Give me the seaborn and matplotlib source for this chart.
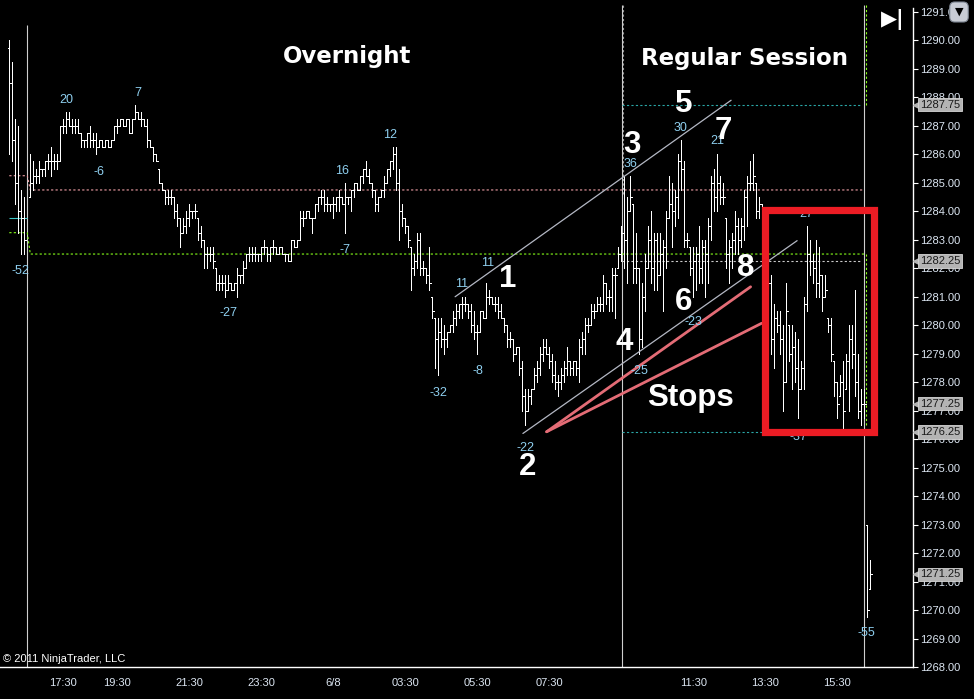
import numpy as np
import pandas as pd
import matplotlib
matplotlib.use('Agg')
import matplotlib.pyplot as plt
import matplotlib.transforms as mtransforms
from matplotlib.patches import Rectangle
import seaborn as sns

# ES 5-minute bars, prices (bar index = 5 min slot)
pre_high = [1290.0, 1289.25, 1287.25, 1287.0, 1284.75, 1284.5]
pre_low = [1286.0, 1285.75, 1284.25, 1283.25, 1282.5, 1282.5]
pre_close = [1288.5, 1286.5, 1285.0, 1284.0, 1283.75, 1283.0]

eth_high = [
    1286.0, 1285.75, 1285.5, 1285.75, 1285.5, 1285.75, 1286.0, 1286.25, 1286.0, 1286.0,
    1287.0, 1287.25, 1287.5, 1287.5, 1287.25, 1287.25, 1287.25, 1286.75, 1286.5, 1286.75,
    1287.0, 1286.75, 1286.75, 1286.5, 1286.5, 1286.5, 1286.5, 1286.5, 1287.0, 1287.25,
    1287.25, 1287.25, 1287.25, 1287.25, 1287.25, 1287.75, 1287.5, 1287.5, 1287.25, 1287.25,
    1286.5, 1286.25, 1286.0, 1285.5, 1285.0, 1284.75, 1284.75, 1284.75, 1284.5, 1284.25,
    1283.75, 1283.75, 1284.0, 1284.25, 1284.0, 1284.25, 1283.75, 1283.5, 1283.0, 1282.75,
    1282.75, 1282.75, 1282.0, 1281.75, 1281.75, 1281.75, 1281.75, 1281.5, 1281.5, 1282.0,
    1281.75, 1282.25, 1282.5, 1282.75, 1282.75, 1282.75, 1282.5, 1282.75, 1283.0, 1282.75,
    1282.75, 1283.0, 1282.75, 1282.75, 1282.75, 1282.5, 1282.5, 1283.0, 1283.0, 1283.0,
    1284.0, 1284.0, 1284.0, 1284.0, 1283.75, 1284.25, 1284.5, 1284.75, 1284.75, 1284.5,
    1284.25, 1284.5, 1284.5, 1284.75, 1284.5, 1285.0, 1284.5, 1284.75, 1285.0, 1285.0,
    1285.25, 1285.5, 1285.75, 1285.5, 1285.0, 1284.75, 1284.5, 1284.75, 1285.25, 1285.5,
    1285.75, 1286.25, 1286.25, 1285.5, 1284.25, 1283.75, 1283.5, 1282.75, 1282.5, 1283.25,
    1283.25, 1282.25, 1282.0, 1282.75, 1281.0, 1280.25, 1280.25, 1280.25, 1280.0, 1279.75,
    1280.0, 1280.5, 1280.75, 1280.75, 1281.0, 1281.0, 1280.75, 1280.75, 1280.5, 1280.0,
    1280.5, 1280.5, 1281.5, 1281.25, 1281.0, 1281.0, 1281.0, 1280.75, 1280.25, 1280.0,
    1279.75, 1279.5, 1279.25, 1279.25, 1278.75, 1277.75, 1277.75, 1277.75, 1278.5, 1278.75,
    1279.25, 1279.5, 1279.5, 1279.25, 1279.0, 1278.75, 1278.25, 1278.5, 1278.75, 1279.25,
    1278.75, 1278.75, 1278.75, 1279.5, 1279.75, 1280.25, 1280.25, 1280.75, 1280.75, 1281.0,
    1281.0, 1281.75, 1281.5, 1281.25, 1282.0, 1282.0, 1282.75, 1283.5]
eth_low = [
    1284.5, 1284.75, 1285.0, 1285.0, 1285.25, 1285.25, 1285.5, 1285.25, 1285.5, 1285.5,
    1285.75, 1286.75, 1286.75, 1287.0, 1286.75, 1286.75, 1286.75, 1286.25, 1286.25, 1286.25,
    1286.25, 1286.25, 1286.0, 1286.25, 1286.25, 1286.25, 1286.25, 1286.25, 1286.5, 1286.75,
    1287.0, 1287.0, 1287.0, 1286.75, 1286.75, 1287.25, 1287.25, 1287.0, 1287.0, 1286.25,
    1286.25, 1285.75, 1285.75, 1285.0, 1284.75, 1284.25, 1284.25, 1284.25, 1283.75, 1283.5,
    1282.75, 1283.25, 1283.25, 1283.5, 1283.75, 1283.75, 1283.0, 1282.75, 1282.0, 1282.0,
    1282.25, 1282.0, 1281.25, 1281.25, 1281.25, 1281.0, 1281.25, 1281.25, 1281.25, 1281.0,
    1281.5, 1281.5, 1282.0, 1282.25, 1282.25, 1282.25, 1282.25, 1282.25, 1282.5, 1282.25,
    1282.25, 1282.5, 1282.5, 1282.5, 1282.5, 1282.25, 1282.25, 1282.25, 1282.75, 1282.75,
    1283.0, 1283.5, 1283.75, 1283.75, 1283.25, 1283.75, 1284.0, 1284.25, 1284.0, 1284.0,
    1284.0, 1283.75, 1284.0, 1284.0, 1284.25, 1283.25, 1284.25, 1284.0, 1284.5, 1284.75,
    1284.75, 1285.0, 1285.25, 1285.0, 1284.5, 1284.0, 1284.0, 1284.5, 1284.5, 1285.0,
    1285.25, 1285.5, 1284.75, 1283.0, 1283.5, 1283.25, 1282.75, 1281.25, 1281.75, 1282.0,
    1281.75, 1281.75, 1281.5, 1281.25, 1280.25, 1278.5, 1278.25, 1279.25, 1279.0, 1279.25,
    1279.75, 1279.75, 1280.0, 1280.25, 1280.25, 1280.5, 1280.25, 1279.75, 1279.5, 1279.0,
    1279.75, 1280.25, 1280.25, 1280.75, 1280.75, 1280.5, 1280.25, 1280.25, 1279.75, 1279.25,
    1279.25, 1278.75, 1279.0, 1278.25, 1277.0, 1276.5, 1277.0, 1277.25, 1277.75, 1278.0,
    1278.25, 1278.75, 1279.0, 1278.5, 1278.0, 1277.75, 1277.5, 1277.75, 1278.0, 1278.25,
    1278.25, 1278.25, 1278.25, 1278.0, 1279.0, 1279.0, 1279.75, 1280.0, 1280.25, 1280.5,
    1280.5, 1280.5, 1280.75, 1280.5, 1280.5, 1280.25, 1282.0, 1282.25]
eth_close = [
    1285.0, 1285.25, 1285.25, 1285.5, 1285.5, 1285.75, 1285.75, 1285.75, 1285.75, 1285.75,
    1287.0, 1287.0, 1287.25, 1287.0, 1287.0, 1287.0, 1286.75, 1286.5, 1286.5, 1286.75,
    1286.5, 1286.5, 1286.25, 1286.5, 1286.25, 1286.5, 1286.25, 1286.5, 1287.0, 1287.0,
    1287.25, 1287.0, 1287.25, 1286.75, 1287.25, 1287.5, 1287.25, 1287.25, 1287.0, 1286.5,
    1286.25, 1286.0, 1285.75, 1285.0, 1284.75, 1284.5, 1284.5, 1284.5, 1284.0, 1283.75,
    1283.25, 1283.5, 1283.75, 1284.0, 1284.0, 1284.0, 1283.25, 1283.0, 1282.5, 1282.5,
    1282.5, 1282.25, 1281.5, 1281.5, 1281.5, 1281.25, 1281.5, 1281.25, 1281.5, 1281.75,
    1281.75, 1282.0, 1282.5, 1282.5, 1282.5, 1282.5, 1282.5, 1282.75, 1282.75, 1282.5,
    1282.75, 1282.75, 1282.5, 1282.75, 1282.5, 1282.5, 1282.25, 1283.0, 1282.75, 1283.0,
    1283.75, 1283.75, 1284.0, 1283.75, 1283.75, 1284.25, 1284.5, 1284.5, 1284.25, 1284.25,
    1284.25, 1284.25, 1284.5, 1284.5, 1284.25, 1284.5, 1284.5, 1284.75, 1285.0, 1284.75,
    1285.25, 1285.5, 1285.25, 1285.0, 1284.75, 1284.25, 1284.5, 1284.75, 1285.0, 1285.5,
    1285.75, 1286.0, 1285.0, 1284.0, 1283.75, 1283.5, 1283.0, 1282.0, 1282.25, 1283.0,
    1282.0, 1282.0, 1281.75, 1281.5, 1280.5, 1279.5, 1279.75, 1279.5, 1279.5, 1279.75,
    1280.0, 1280.25, 1280.5, 1280.75, 1280.75, 1280.75, 1280.5, 1280.0, 1279.75, 1279.75,
    1280.5, 1280.25, 1281.0, 1281.0, 1280.75, 1280.75, 1280.5, 1280.25, 1280.0, 1279.5,
    1279.5, 1279.0, 1279.25, 1278.5, 1277.5, 1277.0, 1277.5, 1277.75, 1278.25, 1278.5,
    1279.0, 1279.25, 1279.0, 1278.75, 1278.25, 1278.0, 1278.0, 1278.25, 1278.5, 1278.75,
    1278.5, 1278.75, 1278.5, 1279.25, 1279.5, 1280.0, 1280.0, 1280.5, 1280.5, 1280.75,
    1280.75, 1281.5, 1281.0, 1281.0, 1281.75, 1281.75, 1282.5, 1283.25]

rth_high = [
    1285.25, 1284.5, 1285.25, 1284.25, 1283.25, 1282.0, 1281.5, 1282.5, 1283.5, 1284.0,
    1283.25, 1283.25, 1283.25, 1283.0, 1284.0, 1285.25, 1285.0, 1284.75, 1286.0, 1286.5,
    1285.75, 1283.25, 1282.75, 1282.75, 1282.75, 1283.5, 1283.0, 1283.0, 1283.75, 1285.25,
    1285.5, 1286.0, 1285.25, 1285.0, 1283.75, 1283.0, 1283.25, 1284.0, 1283.75, 1283.75,
    1284.75, 1285.25, 1285.75, 1286.0, 1285.0, 1284.5, 1284.25, 1283.75, 1282.75, 1281.75,
    1280.75, 1280.5, 1280.5, 1280.0, 1281.5, 1280.0, 1280.0, 1279.75, 1279.5, 1278.75,
    1281.0, 1283.5, 1283.0, 1282.5, 1283.0, 1282.75, 1281.75, 1281.75, 1280.25, 1280.25,
    1278.75, 1278.0, 1278.25, 1278.75, 1279.0, 1280.0, 1280.0, 1281.25, 1279.0, 1277.75, 1277.75]
rth_low = [
    1282.0, 1281.5, 1284.0, 1281.5, 1281.5, 1279.0, 1279.25, 1280.5, 1282.0, 1281.5,
    1281.25, 1281.25, 1281.75, 1280.5, 1282.0, 1283.75, 1282.75, 1283.5, 1283.75, 1284.75,
    1282.75, 1282.75, 1281.75, 1281.0, 1281.25, 1281.5, 1281.5, 1281.0, 1281.5, 1283.0,
    1284.0, 1284.0, 1284.25, 1284.25, 1282.0, 1281.5, 1282.0, 1282.5, 1282.5, 1282.75,
    1283.0, 1283.5, 1284.75, 1284.75, 1283.75, 1283.75, 1283.5, 1282.75, 1281.0, 1279.0,
    1278.5, 1279.75, 1279.0, 1277.0, 1278.0, 1278.75, 1277.75, 1278.0, 1276.75, 1277.75,
    1277.75, 1280.5, 1281.75, 1281.5, 1281.0, 1281.0, 1280.5, 1281.0, 1279.75, 1278.75,
    1277.5, 1276.75, 1277.5, 1276.25, 1277.75, 1277.0, 1278.5, 1277.5, 1276.75, 1276.5, 1276.75]
rth_close = [
    1283.0, 1284.0, 1284.5, 1282.0, 1282.0, 1279.5, 1281.0, 1282.0, 1283.0, 1282.0,
    1283.0, 1281.75, 1282.5, 1282.75, 1283.75, 1284.25, 1284.0, 1284.5, 1285.75, 1285.5,
    1283.0, 1283.0, 1282.0, 1282.25, 1282.5, 1282.0, 1282.75, 1282.5, 1283.5, 1285.0,
    1284.5, 1285.0, 1284.5, 1284.5, 1282.5, 1282.75, 1283.0, 1283.5, 1283.0, 1283.5,
    1284.5, 1285.0, 1285.0, 1285.25, 1284.0, 1284.25, 1283.75, 1283.0, 1281.5, 1279.5,
    1280.25, 1280.0, 1279.5, 1278.0, 1280.5, 1279.0, 1279.25, 1278.5, 1277.75, 1278.5,
    1280.75, 1282.5, 1282.25, 1282.0, 1281.5, 1281.75, 1281.0, 1281.25, 1280.0, 1279.0,
    1278.0, 1277.25, 1278.0, 1277.0, 1278.75, 1279.5, 1279.0, 1278.0, 1277.0, 1277.25, 1277.25]

post_high = [1273.0, 1271.75]
post_low = [1269.75, 1270.75]
post_close = [1270.0, 1271.25]

first_open = 1289.75
session_start = {'pre': 0, 'eth': 7, 'rth': 205, 'post': 286}

# time axis labels (bar index of each label)
tick_bars = [18, 36, 60, 84, 108, 132, 156, 180, 228, 252, 276]
tick_labels = ['17:30', '19:30', '21:30', '23:30', '6/8', '03:30', '05:30', '07:30',
               '11:30', '13:30', '15:30']
session_breaks = [6, 204.13, 285]
session_break_tops = [1290.55, 1291.25, 1291.25]

# swing size labels
swing_text = ['-52', '20', '-6', '7', '-27', '16', '-7', '12', '-32', '11', '-8', '11',
              '-22', '36', '-25', '30', '-23', '21', '27', '-37', '-55']
swing_bar = [3.6, 18.9, 29.9, 42.9, 72.9, 110.9, 111.9, 126.9, 142.9, 150.9, 156.2, 159.6,
             171.9, 206.9, 210.2, 223.6, 227.9, 235.9, 265.6, 263.2, 285.6]
swing_price = [1281.9, 1287.91, 1285.38, 1288.15, 1280.43, 1285.42, 1282.64, 1286.68,
               1277.62, 1281.45, 1278.39, 1282.19, 1275.69, 1285.66, 1278.39, 1286.93,
               1280.11, 1286.47, 1283.91, 1276.08, 1269.19]

# hand drawn annotations
wave_text = ['1', '2', '3', '4', '5', '6', '7', '8', 'Stops']
wave_bar = [166.2, 172.9, 207.6, 204.9, 224.9, 224.6, 237.9, 245.6, 227.2]
wave_price = [1281.62, 1275.02, 1286.33, 1279.41, 1287.77, 1280.82, 1286.82, 1282.01, 1277.45]
title_text = ['Overnight', 'Regular Session']
title_bar = [112.6, 244.9]
title_price = [1289.42, 1289.38]

channel_lines = {'upper': ([148.6, 240.6], [1281.0, 1287.9]),
                 'lower': ([171.2, 262.6], [1276.2, 1282.97])}
stop_lines = {'stop_a': ([179.1, 247.1], [1276.26, 1281.35]),
              'stop_b': ([179.1, 250.8], [1276.26, 1280.07])}
stop_box = (252.0, 288.1, 1276.25, 1284.03)

# pivot / session levels
pivot_bar = [0, 6, 7, 285]
pink_level = [1285.25, 1285.25, 1284.75, 1284.75]
green_level = [1283.25, 1283.25, 1282.5, 1282.5]
cyan_level = 1283.75
rth_levels = [1287.75, 1282.25, 1276.25]
rth_level_colors = ['#2aa6a6', '#c8c8c8', '#2aa6a6']
marker_prices = [1287.75, 1282.25, 1277.25, 1276.25, 1271.25]

# ---- assemble bars ----
segments = [('pre', pre_high, pre_low, pre_close), ('eth', eth_high, eth_low, eth_close),
            ('rth', rth_high, rth_low, rth_close), ('post', post_high, post_low, post_close)]
frames = []
for name, h, l, c in segments:
    frames.append(pd.DataFrame({'bar': session_start[name] + np.arange(len(h)),
                                'high': h, 'low': l, 'close': c}))
bars = pd.concat(frames, ignore_index=True)
# open tick drawn at the prior close (clipped into the bar range)
opens = bars['close'].shift(1).fillna(first_open)
bars['open'] = np.clip(opens, bars['low'], bars['high'])

sns.set_theme(style='dark', rc={'figure.facecolor': 'black', 'axes.facecolor': 'black',
                                'savefig.facecolor': 'black'})
plt.rcParams['font.family'] = ['Liberation Sans', 'DejaVu Sans']

fig = plt.figure(figsize=(9.74, 6.99), dpi=100)
ax = fig.add_axes([0, 32 / 699, 913 / 974, 667 / 699])
ax.set_facecolor('black')
ax.set_xlim(-3.1, 301.23)
ax.set_ylim(1268, 1291.42)
ax.grid(False)

# session separators
ax.vlines(session_breaks, 1268, session_break_tops, colors='#cfcfcf', lw=0.8, zorder=1)
ax.vlines(204.7, 1284.6, 1291.25, colors='#9a9a9a', lw=0.8, linestyles=(0, (2, 2)), zorder=1)

# levels
dash = (0, (2, 2))
ax.plot(pivot_bar, pink_level, color='#f2a0a8', lw=0.8, ls=dash, zorder=1)
ax.plot(pivot_bar, green_level, color='#86ff1a', lw=0.8, ls=dash, zorder=1)
ax.hlines(cyan_level, pivot_bar[0], pivot_bar[1], colors='#3cc8c8', lw=0.8, zorder=1)
for lvl, col in zip(rth_levels, rth_level_colors):
    ax.hlines(lvl, session_breaks[1], 284.3, colors=col, lw=0.8, linestyles=dash, zorder=1)
ax.vlines([285.6, 285.6], [rth_levels[0], 1276.5], [1291.25, green_level[-1]],
          colors='#86ff1a', lw=0.8, linestyles=dash, zorder=1)

# OHLC bars
ax.vlines(bars['bar'], bars['low'], bars['high'], colors='white', lw=0.72,
          antialiased=False, zorder=3)
ax.hlines(bars['open'], bars['bar'] - 0.45, bars['bar'], colors='white', lw=0.72,
          antialiased=False, zorder=3)
ax.hlines(bars['close'], bars['bar'], bars['bar'] + 0.45, colors='white', lw=0.72,
          antialiased=False, zorder=3)

# trend lines
rows = []
for key, (xs, ys) in {**channel_lines, **stop_lines}.items():
    for x, y in zip(xs, ys):
        rows.append({'bar': x, 'price': y, 'line': key})
trend = pd.DataFrame(rows)
sns.lineplot(data=trend[trend.line.isin(channel_lines)], x='bar', y='price', units='line',
             estimator=None, sort=False, color='#b4b8c4', lw=0.9, ax=ax, legend=False, zorder=4)
sns.lineplot(data=trend[trend.line.isin(stop_lines)], x='bar', y='price', units='line',
             estimator=None, sort=False, color='#e46c76', lw=2.0, ax=ax, legend=False, zorder=4)

# swing labels
for t, x, y in zip(swing_text, swing_bar, swing_price):
    ax.text(x, y, t, color='#8fd0f0', fontsize=9, ha='center', va='center', zorder=4)

# stop box
b0, b1, lo, hi = stop_box
ax.add_patch(Rectangle((b0, lo), b1 - b0, hi - lo, fill=False, ec='#ec1c24', lw=5.2,
                       joinstyle='miter', zorder=6, clip_on=False))

for t, x, y in zip(wave_text, wave_bar, wave_price):
    ax.text(x, y, t, color='white', fontsize=22.5, fontweight='bold', ha='center',
            va='center', zorder=7)
for t, x, y in zip(title_text, title_bar, title_price):
    ax.text(x, y, t, color='white', fontsize=16.5, fontweight='bold', ha='center',
            va='center', zorder=7, family='DejaVu Sans')

# axes styling
for side in ['left', 'top']:
    ax.spines[side].set_visible(False)
for side in ['right', 'bottom']:
    ax.spines[side].set_color('white')
    ax.spines[side].set_linewidth(1.0)
ax.spines['right'].set_bounds(1268, 1291.15)
ax.yaxis.tick_right()
ax.set_yticks(np.arange(1268, 1292))
ax.set_yticklabels([f'{v:.2f}' for v in np.arange(1268, 1292)])
ax.set_xticks(tick_bars)
ax.set_xticklabels(tick_labels)
ax.tick_params(axis='y', colors='white', labelcolor='#dce6f2', length=3.6, width=0.8,
               labelsize=8, pad=1.5)
ax.tick_params(axis='x', colors='white', labelcolor='#dce6f2', length=3.6, width=0.8,
               labelsize=8, pad=4)
ax.set_xlabel('')
ax.set_ylabel('')

# price markers on the axis
blend = mtransforms.blended_transform_factory(ax.transAxes, ax.transData)
for p in marker_prices:
    ax.plot(1.0058, p, marker='<', ms=7.5, color='#b4b4b4', mec='#b4b4b4',
            transform=blend, clip_on=False, zorder=8)
    ax.text(1.0075, p, f'{p:.2f}', transform=blend, ha='left', va='center', fontsize=8,
            color='#1a1a1a', clip_on=False, zorder=9,
            bbox=dict(boxstyle='square,pad=0.15', fc='#b4b4b4', ec='#d6d6d6', lw=0.6))

ax.text(0.003, 0.004, '\u00a9 2011 NinjaTrader, LLC', transform=ax.transAxes,
        fontsize=8, color='white', ha='left', va='bottom')

fig.text(893 / 974, 1 - 20 / 699, '\u25B6|', fontsize=15, color='white', ha='center',
         va='center', family='DejaVu Sans', fontweight='bold')
fig.text(959 / 974, 1 - 12 / 699, '\u25BC', fontsize=8, color='black', ha='center',
         va='center', family='DejaVu Sans',
         bbox=dict(boxstyle='round,pad=0.45', fc='#c8ccd4', ec='#7c8490', lw=0.8))

fig.savefig('out.png', dpi=100, facecolor='black')
